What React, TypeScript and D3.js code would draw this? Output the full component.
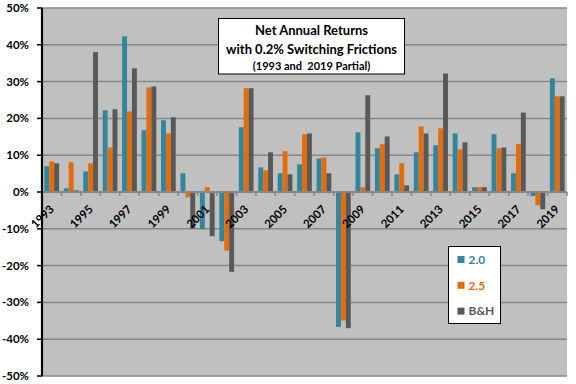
import React from "react";
import * as d3 from "d3";

const years: string[] = [
  "1993","1994","1995","1996","1997","1998","1999","2000","2001","2002","2003","2004","2005","2006",
  "2007","2008","2009","2010","2011","2012","2013","2014","2015","2016","2017","2018","2019",
];
const s20: number[] = [7.0,1.0,5.6,22.2,42.3,16.8,19.5,5.1,-10.1,-13.4,17.6,6.7,5.1,7.5,9.1,-36.7,16.2,11.9,4.8,10.8,12.7,15.9,1.3,15.7,5.1,-1.1,30.9];
const s25: number[] = [8.3,8.1,7.8,12.1,21.9,28.4,15.9,-1.4,1.3,-15.9,28.2,5.9,11.1,15.7,9.4,-34.9,1.3,13.0,7.8,17.8,17.3,11.6,1.3,11.9,13.0,-3.6,26.0];
const sBH: number[] = [7.8,0.45,38.0,22.5,33.6,28.7,20.3,-9.9,-12.0,-21.7,28.2,10.8,4.8,15.9,5.1,-37.0,26.3,15.1,1.8,15.9,32.2,13.5,1.3,12.1,21.6,-4.7,26.0];
const seriesNames: string[] = ["2.0", "2.5", "B&H"];
const seriesColors: string[] = ["#31859C", "#E46C0A", "#595959"];
const yTicks: number[] = [-50, -40, -30, -20, -10, 0, 10, 20, 30, 40, 50];
const titleLines: string[] = ["Net Annual Returns", "with 0.2% Switching Frictions", "(1993 and  2019 Partial)"];

const FONT = "Lato, 'Open Sans', sans-serif";

export default function App() {
  const W = 576, H = 384;
  const left = 42, right = 567, top = 8, bottom = 376;
  const seriesData = [s20, s25, sBH];
  const x = d3.scaleBand<string>().domain(years).range([left, right]).paddingInner(0).paddingOuter(0);
  const xi = d3.scaleBand<string>().domain(seriesNames).range([0, x.bandwidth()]).paddingInner(0).paddingOuter(0.48);
  const y = d3.scaleLinear().domain([-50, 50]).range([bottom, top]);
  const y0 = y(0);
  const gridColor = "#878787";

  return (
    <svg width={W} height={H} style={{ position: "absolute", left: 0, top: 0, background: "#fff" }}>
      <rect x={left} y={top} width={right - left} height={bottom - top} fill="#C0C0C0" />
      {yTicks.filter((t) => t !== 0).map((t) => (
        <line key={t} x1={left} x2={right} y1={y(t)} y2={y(t)} stroke={gridColor} strokeWidth={1.5} />
      ))}
      {years.map((yr, i) =>
        seriesData.map((arr, k) => {
          const v = arr[i];
          const bx = (x(yr) as number) + (xi(seriesNames[k]) as number);
          return (
            <rect
              key={yr + k}
              x={bx}
              width={xi.bandwidth()}
              y={Math.min(y(v), y0)}
              height={Math.abs(y(v) - y0)}
              fill={seriesColors[k]}
            />
          );
        })
      )}
      {/* x axis at zero */}
      <line x1={left} x2={right} y1={y0} y2={y0} stroke={gridColor} strokeWidth={2} />
      {years.map((yr) => (
        <line key={"t" + yr} x1={(x(yr) as number) + x.bandwidth()} x2={(x(yr) as number) + x.bandwidth()} y1={y0} y2={y0 + 4} stroke={gridColor} strokeWidth={1.5} />
      ))}
      {years.map((yr, i) =>
        i % 2 === 0 ? (
          <text
            key={"l" + yr}
            transform={`translate(${(x(yr) as number) + x.bandwidth() / 2 + 3},${y0 + 18}) rotate(-45)`}
            textAnchor="end"
            fontFamily={FONT}
            fontWeight="bold"
            fontSize={11.5}
            fill="#000"
          >
            {yr}
          </text>
        ) : null
      )}
      {/* y axis */}
      <line x1={left} x2={left} y1={top} y2={bottom} stroke="#000" strokeWidth={2.2} />
      {yTicks.map((t) => (
        <g key={"y" + t}>
          <line x1={left - 5} x2={left} y1={y(t)} y2={y(t)} stroke="#000" strokeWidth={1.5} />
          <text x={29} y={y(t)} dy="0.35em" textAnchor="end" fontFamily={FONT} fontWeight="bold" fontSize={11.5} fill="#000">
            {t + "%"}
          </text>
        </g>
      ))}
      {/* title box */}
      <rect x={218.5} y={18.5} width={186} height={55.5} fill="#fff" stroke="#000" strokeWidth={1} />
      <text x={311.5} y={35} textAnchor="middle" fontFamily={FONT} fontWeight="bold" fontSize={13} fill="#000">{titleLines[0]}</text>
      <text x={311.5} y={53.5} textAnchor="middle" fontFamily={FONT} fontWeight="bold" fontSize={13} fill="#000">{titleLines[1]}</text>
      <text x={311.5} y={70} textAnchor="middle" fontFamily={FONT} fontWeight="bold" fontSize={11} fill="#000" style={{ whiteSpace: "pre" }}>{titleLines[2]}</text>
      {/* legend */}
      <rect x={448.5} y={246.5} width={52} height={77} fill="#fff" stroke="#000" strokeWidth={1} />
      {seriesNames.map((n, k) => {
        const cy = 259.5 + k * 25.8;
        return (
          <g key={"lg" + n}>
            <rect x={457.5} y={cy - 3.5} width={7} height={7} fill={seriesColors[k]} />
            <text x={468.5} y={cy} dy="0.36em" fontFamily={FONT} fontWeight="bold" fontSize={12} fill={seriesColors[k]}>{n}</text>
          </g>
        );
      })}
    </svg>
  );
}
